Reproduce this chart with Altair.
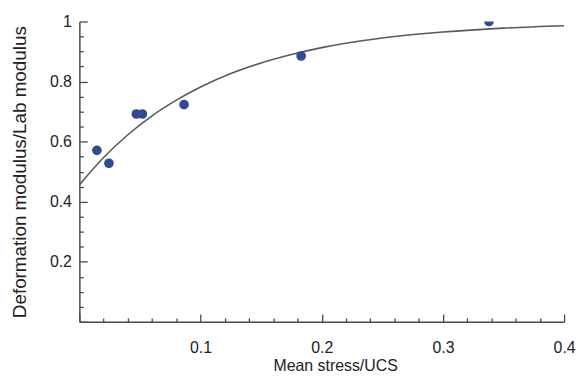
import altair as alt
import pandas as pd

# measured points
stress = [0.0145, 0.0244, 0.047, 0.052, 0.0864, 0.183, 0.338]
modulus = [0.571, 0.528, 0.692, 0.692, 0.723, 0.885, 1.0]

# fitted curve
curve_x = [0.0, 0.02, 0.04, 0.06, 0.08, 0.10, 0.125, 0.15, 0.175, 0.20, 0.25, 0.30, 0.35, 0.40]
curve_y = [0.456, 0.547, 0.623, 0.686, 0.738, 0.782, 0.827, 0.862, 0.890, 0.913, 0.945, 0.965, 0.978, 0.986]

x_ticks = [round(i * 0.02, 2) for i in range(21)]
y_ticks = [round(i * 0.05, 2) for i in range(21)]

pts = pd.DataFrame({"x": stress, "y": modulus})
crv = pd.DataFrame({"x": curve_x, "y": curve_y})

FONT = "Liberation Sans"
AX = "#4a4a4a"

xscale = alt.Scale(domain=[0, 0.4], nice=False, zero=False)
yscale = alt.Scale(domain=[0, 1], nice=False)

xaxis = alt.Axis(
    values=x_ticks, tickCount=100,
    title="Mean stress/UCS",
    labelExpr="(abs(datum.value*10 - round(datum.value*10)) < 0.000001 && datum.value > 0) ? format(datum.value, '.1f') : ''",
    tickSize={"condition": {"test": "abs(datum.value*10 - round(datum.value*10)) < 0.000001", "value": -8}, "value": -4},
    grid=False,
    domainColor=AX, domainWidth=1.5, tickColor=AX, tickWidth=1.3,
    labelFont=FONT, labelFontSize=16, labelColor="#222",
    titleFont=FONT, titleFontSize=16, titleFontWeight="normal", titleColor="#222",
    labelPadding=26, labelFlush=False, labelOverlap=False,
    titleX=258, titleY=49, titleBaseline="alphabetic",
)
yaxis = alt.Axis(
    values=y_ticks, tickCount=100,
    title="Deformation modulus/Lab modulus",
    labelExpr="datum.value == 1 ? '1' : ((abs(datum.value*5 - round(datum.value*5)) < 0.000001 && datum.value > 0) ? format(datum.value, '.1f') : '')",
    tickSize={"condition": {"test": "abs(datum.value*5 - round(datum.value*5)) < 0.000001", "value": -8}, "value": -4},
    grid=False,
    domainColor=AX, domainWidth=1.5, tickColor=AX, tickWidth=1.3,
    labelFont=FONT, labelFontSize=16, labelColor="#222",
    titleFont=FONT, titleFontSize=19, titleFontWeight="normal", titleColor="#222",
    labelPadding=16, titlePadding=20, labelFlush=False, labelOverlap=False,
)

line = alt.Chart(crv).mark_line(color="#5a5a5a", strokeWidth=1.6, interpolate="monotone", clip=True).encode(
    x=alt.X("x:Q", scale=xscale, axis=xaxis),
    y=alt.Y("y:Q", scale=yscale, axis=yaxis),
)
points = alt.Chart(pts).mark_circle(color="#2f4b93", opacity=1, size=95, clip=True).encode(
    x=alt.X("x:Q", scale=xscale),
    y=alt.Y("y:Q", scale=yscale),
)

chart = (line + points).properties(
    width=489, height=303,
    padding={"left": 72, "top": 12, "right": 12, "bottom": 52},
    autosize=alt.AutoSizeParams(type="none"),
    background="white",
).configure_view(stroke=None)

chart.save("out.html", embed_options={"renderer": "svg", "actions": False})
